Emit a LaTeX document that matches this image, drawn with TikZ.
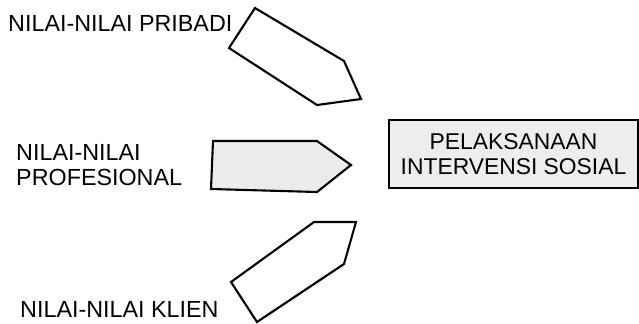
\documentclass[tikz,border=0pt]{standalone}
\usepackage{fontspec}
\setmainfont{Liberation Sans}
\begin{document}
\begin{tikzpicture}[x=0.03cm,y=-0.03cm,
    label/.style={inner sep=0pt,anchor=west,align=left,font=\fontsize{19.9}{21}\selectfont},
    pointer/.style={line width=1.8pt,line join=miter}]
      \useasboundingbox (0,0) rectangle (639,323);
      \draw [pointer] (255,8) -- (344,61) -- (361,99) -- (317,105) -- (229,48) -- cycle;
      \draw [pointer,fill=black!8] (213,141) -- (317,141) -- (351,165) -- (317,192) -- (211,189) -- cycle;
      \draw [pointer] (314,222) -- (356,222) -- (344,264) -- (257,322) -- (231,282) -- cycle;
      \node [label] (pribadi) at (8,23.5) {NILAI-NILAI PRIBADI};
      \node [label] (profesional) at (16,165) {NILAI-NILAI\\PROFESIONAL};
      \node [label] (klien) at (20,309.5) {NILAI-NILAI KLIEN};
      \node [draw,line width=1.8pt,fill=black!7,minimum width=7.47cm,minimum height=2.04cm,
        align=center,font=\fontsize{19.5}{21.6}\selectfont] (intervensi) at (513.5,154)
        {PELAKSANAAN\\INTERVENSI SOSIAL};
    \end{tikzpicture}
\end{document}
